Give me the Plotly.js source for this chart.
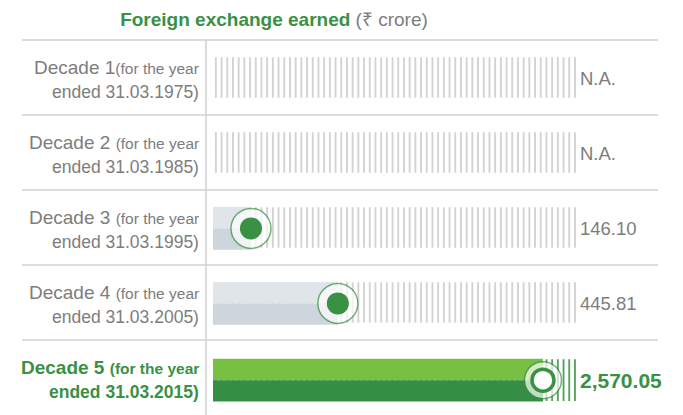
<!DOCTYPE html>
<html>
<head>
<meta charset="utf-8">
<script src="https://cdn.plot.ly/plotly-3.0.1.min.js"></script>
<style>html,body{margin:0;padding:0;background:#fff}#chart{width:683px;height:415px}</style>
</head>
<body>
<div id="chart"></div>
<script>
// ---- data ----
const decades = ['Decade 1', 'Decade 2', 'Decade 3', 'Decade 4', 'Decade 5'];
const yearEnded = ['31.03.1975', '31.03.1985', '31.03.1995', '31.03.2005', '31.03.2015'];
const earned = [null, null, 146.10, 445.81, 2570.05];          // ₹ crore
const valueLabels = ['N.A.', 'N.A.', '146.10', '445.81', '2,570.05'];
// bar fill as drawn in the infographic (% of the striped track; not to scale with values)
const drawnFill = [null, null, 10.4, 34.2, 90.4];
const trackMax = 100;

// ---- styling ----
const GREEN = '#3a9144', GREEN_L = '#77c043', GREEN_D = '#348f44';
const GREY_T = '#7d7d7d', STRIPE = '#cbcbcb', LINE = '#d0d0d0';
const FONT = 'Liberation Sans, Arial, sans-serif';
const L = 213, R = 578, W = 683, H = 415;
const px = v => (v - L) / (R - L);

const rows = decades.map((d, i) => i);
const has = rows.filter(i => earned[i] !== null);
const last = decades.length - 1;
const yoff = i => (i === last ? 0.035 : 0.012);

const traces = [];
// striped tracks
traces.push({
  type: 'bar', orientation: 'h',
  y: rows.filter(i => i !== last), x: rows.filter(i => i !== last).map(() => trackMax),
  base: 0, offset: -0.27, width: 0.54,
  marker: {color: '#fff', line: {width: 0},
    pattern: {shape: '|', size: 5.7, solidity: 0.28, fgcolor: STRIPE, bgcolor: '#fff', fillmode: 'replace'}},
  hoverinfo: 'skip'
});
traces.push({
  type: 'bar', orientation: 'h', y: [last + yoff(last)], x: [trackMax], base: 0, offset: -0.28, width: 0.56,
  marker: {color: '#fff', line: {width: 0},
    pattern: {shape: '|', size: 5.7, solidity: 0.28, fgcolor: GREEN, bgcolor: '#fff', fillmode: 'replace'}},
  hoverinfo: 'skip'
});
// filled bars: upper (light) and lower (dark) halves
traces.push({
  type: 'bar', orientation: 'h', y: has.map(i => i + yoff(i)), x: has.map(i => drawnFill[i]), base: 0,
  offset: -0.285, width: 0.285,
  marker: {color: has.map(i => i === last ? GREEN_L : '#dfe5e8'), line: {width: 0}}, hoverinfo: 'skip'
});
traces.push({
  type: 'bar', orientation: 'h', y: has.map(i => i + yoff(i)), x: has.map(i => drawnFill[i]), base: 0,
  offset: 0, width: 0.285,
  marker: {color: has.map(i => i === last ? GREEN_D : '#cdd6dc'), line: {width: 0}}, hoverinfo: 'skip'
});
// knobs
traces.push({
  type: 'scatter', mode: 'markers', x: has.map(i => drawnFill[i]), y: has.map(i => i + yoff(i)),
  marker: {size: has.map(i => i === last ? 37 : 40), color: '#fff', line: {color: GREEN, width: 1.5}},
  hoverinfo: 'skip'
});
traces.push({
  type: 'scatter', mode: 'markers', x: has.map(i => drawnFill[i]), y: has.map(i => i + yoff(i)),
  marker: {size: 22, color: has.map(i => i === last ? '#fff' : GREEN),
    line: {color: GREEN, width: has.map(i => i === last ? 3.5 : 0)}},
  hoverinfo: 'skip'
});

const ann = [];
rows.forEach(i => {
  const hi = i === last;
  const col = hi ? GREEN : GREY_T;
  const sep = i === 0 ? '' : ' ';
  const l1 = `<span style="font-size:19px">${decades[i]}</span>${sep}<span style="font-size:15.5px">(for the year</span>`;
  const l2 = `ended ${yearEnded[i]})`;
  ann.push({xref: 'paper', yref: 'y', x: px(201), y: i, xanchor: 'right', yanchor: 'middle', yshift: 10,
    text: hi ? `<b>${l1}</b>` : l1, showarrow: false, font: {family: FONT, size: 19, color: col}});
  ann.push({xref: 'paper', yref: 'y', x: px(201), y: i, xanchor: 'right', yanchor: 'middle', yshift: -14,
    text: hi ? `<b>${l2}</b>` : l2, showarrow: false, font: {family: FONT, size: 17.5, color: col}});
  ann.push({xref: 'paper', yref: 'y', x: 1, y: i + yoff(i), xanchor: 'left', yanchor: 'middle', xshift: 0,
    text: hi ? `<b>${valueLabels[i]}</b>` : valueLabels[i], showarrow: false,
    font: {family: FONT, size: hi ? 21 : 18.5, color: col}});
});

const shapes = [];
for (let k = 0; k < decades.length; k++) {
  const yp = 1 - k / decades.length;
  shapes.push({type: 'line', xref: 'paper', yref: 'paper', x0: px(22), x1: px(658), y0: yp, y1: yp,
    line: {color: LINE, width: 1.5}, layer: 'below'});
}
shapes.push({type: 'line', xref: 'paper', yref: 'paper', x0: px(206), x1: px(206), y0: -0.01, y1: 1,
  line: {color: LINE, width: 1.5}, layer: 'below'});

const layout = {
  width: W, height: H,
  margin: {l: L, r: W - R, t: 40, b: 0, pad: 0},
  paper_bgcolor: '#fff', plot_bgcolor: '#fff',
  showlegend: false, barmode: 'overlay',
  title: {text: '<b>Foreign exchange earned</b><span style="color:#7d7d7d"> (₹ crore)</span>',
    x: 274 / W, xanchor: 'center', y: 1 - 19 / H, yanchor: 'middle', yref: 'container',
    font: {family: FONT, size: 19, color: GREEN}},
  xaxis: {range: [0, trackMax], visible: false, fixedrange: true},
  yaxis: {range: [decades.length - 0.5, -0.5], visible: false, fixedrange: true},
  annotations: ann, shapes: shapes
};
Plotly.newPlot('chart', traces, layout, {staticPlot: true, displayModeBar: false});
</script>
</body>
</html>
